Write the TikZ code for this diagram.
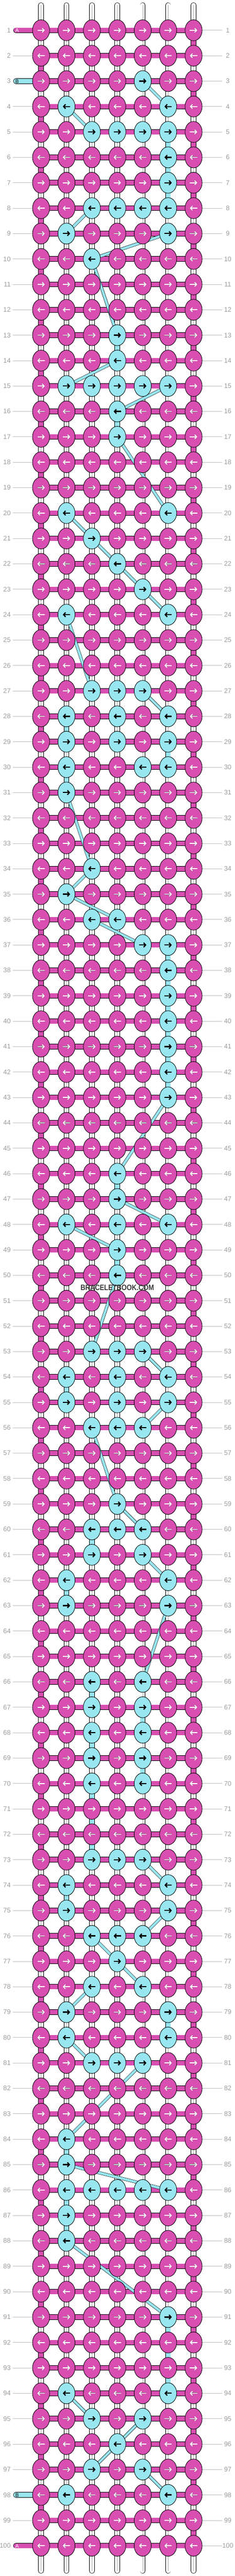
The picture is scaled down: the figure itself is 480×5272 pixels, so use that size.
\documentclass[tikz,border=0pt]{standalone}
\usepackage{fontspec}
\usepackage{graphicx}
\setmainfont{Liberation Sans}
\usepackage{tikz}
\usetikzlibrary{shapes.geometric,arrows.meta}
\definecolor{pinkA}{RGB}{216,78,177}
\definecolor{cyanB}{RGB}{151,230,240}
\definecolor{labelgray}{RGB}{155,155,155}
\definecolor{linegray}{RGB}{190,190,190}
\pgfdeclarelayer{strings}
\pgfdeclarelayer{threads}
\pgfsetlayers{strings,threads,main}
\tikzset{%
  knot/.style={draw, ellipse, line width=0.9pt, minimum width=35pt, minimum height=43pt, inner sep=0pt},
  aknot/.style={knot, fill=pinkA},% knot tied with thread A
  bknot/.style={knot, fill=cyanB},% knot tied with thread B
  athread/.style={draw=black, double=pinkA, double distance=9.4pt, line width=0.8pt},% thread A
  bthread/.style={athread, double=cyanB},% thread B going straight down
  bcross/.style={draw=black, double=cyanB, double distance=5pt, line width=0.6pt},% thread B changing column
  string/.style={draw=black, double=white, double distance=9.4pt, line width=0.8pt, line cap=round},% base string
  core/.style={draw=black!35, line width=0.7pt},
  rowline/.style={draw=linegray, line width=0.9pt},
  rowno/.style={text=labelgray, font=\fontsize{13.5}{13.5}\selectfont, inner sep=0pt},
  stubtext/.style={font=\fontsize{10.5}{10.5}\selectfont, inner sep=0pt},
  opointer/.style={draw=black!50, line width=2.2pt, -{Straight Barb[length=4pt,width=8.5pt]}},
  wpointer/.style={draw=white, line width=1.7pt, -{Straight Barb[length=4pt,width=8.5pt]}},
  kpointer/.style={draw=black, line width=2.4pt, -{Straight Barb[length=4pt,width=9pt]}},
  watermark/.style={text=black!78, font=\fontsize{16}{16}\selectfont\bfseries, inner sep=0pt}
}

\begin{document}
\begin{tikzpicture}[x=1pt, y=-1pt]
\useasboundingbox (0,0) rectangle (480,5272);

% knots tied with B
\foreach \r/\cs in {3/{5}, 4/{2,6}, 5/{3,4,5,6}, 6/{6}, 7/{6}, 8/{3,4,5,6}, 9/{2,6}, 10/{3},
  13/{4}, 14/{4}, 15/{2,3,4,5,6}, 16/{4}, 17/{4}, 20/{2,6}, 21/{3}, 22/{4}, 23/{5}, 24/{2,6},
  27/{3,4,5}, 28/{2,4,6}, 29/{2,4,6}, 30/{2,5,6}, 31/{2}, 34/{3}, 35/{2}, 36/{3,4}, 37/{5,6},
  38/{6}, 39/{6}, 40/{6}, 41/{6}, 42/{6}, 43/{6}, 46/{4}, 47/{4}, 48/{2,4,6}, 49/{4}, 50/{4},
  53/{3,4,5}, 54/{2,4,6}, 55/{2,4,6}, 56/{3,4,5}, 59/{4}, 60/{3,4,5}, 61/{3,5}, 62/{2,6}, 63/{2,6},
  66/{3,5}, 67/{3,5}, 68/{3,5}, 69/{3,5}, 70/{3,5}, 73/{3,4,5}, 74/{2,6}, 75/{2,6}, 76/{3,4,5},
  77/{4}, 78/{3,5}, 79/{2,6}, 80/{2,6}, 81/{3,4,5}, 84/{2}, 85/{2}, 86/{2,3,4,5,6}, 87/{2}, 88/{2},
  91/{6}, 94/{2,6}, 95/{3,5}, 96/{4}, 97/{3,5}, 98/{2,6}}{
  \foreach \c in \cs {\expandafter\gdef\csname bk\r-\c\endcsname{}}
}

% the knots
\foreach \r in {1,...,100}{
  \ifodd\r \def\xa{-7.5pt}\def\xb{7.5pt}\else \def\xa{7.5pt}\def\xb{-7.5pt}\fi
  \foreach \c in {1,...,7}{
    \ifcsname bk\r-\c\endcsname
      \node[bknot] (k\r-\c) at (32+52*\c, 10+52*\r) {};
      \draw[kpointer] ([xshift=\xa]k\r-\c.center) -- ([xshift=\xb]k\r-\c.center);
    \else
      \node[aknot] (k\r-\c) at (32+52*\c, 10+52*\r) {};
      \draw[opointer] ([xshift=\xa]k\r-\c.center) -- ([xshift=\xb]k\r-\c.center);
      \draw[wpointer] ([xshift=\xa]k\r-\c.center) -- ([xshift=\xb]k\r-\c.center);
    \fi
  }
}

% row numbers
\foreach \r in {1,...,100}{
  \node[rowno, anchor=east] (ln\r) at (22, 10+52*\r) {\r};
  \node[rowno] (rn\r) at (466, 10+52*\r) {\r};
  \coordinate (re\r) at (454, 10+52*\r);
  \draw[rowline] (k\r-7) -- (re\r);
}
\foreach \r in {2,4,5,...,97,99}{
  \coordinate (le\r) at (26, 10+52*\r);
  \draw[rowline] (le\r) -- (k\r-1);
}

\begin{pgfonlayer}{threads}
  % A across every row and round the edges
  \foreach \r in {1,...,100}{\draw[athread] (k\r-1.center) -- (k\r-7.center);}
  \foreach \r in {1,3,...,99}{\pgfmathtruncatemacro\s{\r+1}
    \draw[athread] (k\r-7.center) -- (k\s-7.center);}
  \foreach \r in {2,4,...,98}{\pgfmathtruncatemacro\s{\r+1}
    \draw[athread] (k\r-1.center) -- (k\s-1.center);}
  % B straight down
  \foreach \r/\c in {5/6, 6/6, 7/6, 13/4, 16/4, 28/2, 29/6, 30/2, 37/6, 38/6, 39/6, 40/6, 41/6, 42/6,
    46/4, 49/4, 54/2, 60/3, 62/2, 66/3, 67/5, 68/3, 69/5, 70/3, 71/3, 72/3, 74/2, 79/6, 84/2,
    86/2, 87/2, 91/6, 92/6, 93/6}{\pgfmathtruncatemacro\s{\r+1}
    \draw[bthread] (k\r-\c.center) -- (k\s-\c.center);}
  % B to another column
  \foreach \r/\c/\s/\d in {3/5/4/6, 4/2/5/3, 8/3/9/2, 9/6/10/3, 10/3/13/4, 14/4/15/2, 15/6/16/4,
    17/4/20/6, 20/2/21/3, 21/3/22/4, 22/4/23/5, 23/5/24/6, 24/2/27/3, 27/5/28/6, 31/2/34/3,
    34/3/35/2, 35/2/36/4, 36/3/37/5, 43/6/46/4, 47/4/48/6, 48/2/49/4, 50/4/53/3, 53/5/54/6,
    55/6/56/5, 56/3/59/4, 59/4/60/5, 61/5/62/6, 63/6/66/5, 73/5/74/6, 75/6/76/5, 76/3/77/4,
    77/4/78/5, 78/3/79/2, 80/2/81/3, 81/5/84/2, 85/2/86/6, 88/2/91/6, 94/2/95/3, 95/5/96/4,
    96/4/97/3, 97/5/98/6}{
    \draw[bcross] (k\r-\c.center) -- (k\s-\d.center);}
  % loose ends of A and B
  \coordinate (ain) at (32.5, 62);
  \coordinate (bin) at (32.5, 166);
  \coordinate (bout) at (32.5, 5106);
  \coordinate (aout) at (32.5, 5210);
  \draw[athread, line cap=round] (ain) -- (k1-1.center);
  \draw[bthread, line cap=round] (bin) -- (k3-1.center);
  \draw[bthread, line cap=round] (bout) -- (k98-1.center);
  \draw[athread, line cap=round] (aout) -- (k100-1.center);
\end{pgfonlayer}
\node[stubtext, text=white] (alab1) at (35, 62.5) {A};
\node[stubtext] (blab1) at (35, 166.5) {B};
\node[stubtext] (blab2) at (35, 5106.5) {B};
\node[stubtext, text=white] (alab2) at (35, 5210.5) {A};

\begin{pgfonlayer}{strings}
  \foreach \c in {1,...,7}{
    \coordinate (top\c) at (32+52*\c, 10.5);
    \coordinate (bot\c) at (32+52*\c, 5261.5);
    \draw[string] (top\c) -- (bot\c);
    \draw[core] (top\c) -- (bot\c);
  }
\end{pgfonlayer}

\node[watermark] (wm) at (240, 2635) {\scalebox{0.85}[1]{BRACELETBOOK.COM}};
\end{tikzpicture}
\end{document}
